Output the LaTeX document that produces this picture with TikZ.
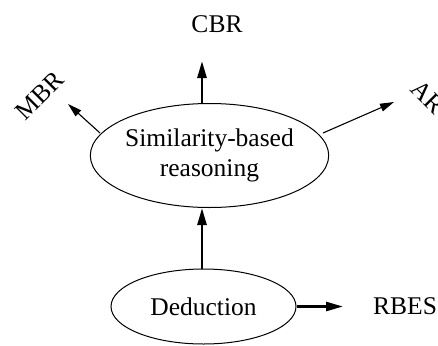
\documentclass[tikz,border=0pt]{standalone}
\usepackage{fontspec}
\setmainfont{Liberation Serif}
\usetikzlibrary{shapes.geometric,arrows.meta}
\begin{document}
\begin{tikzpicture}[x=1pt,y=-1pt,
  txt/.style={font=\fontsize{25.5}{30}\selectfont, inner sep=0pt},
  oval/.style={ellipse, draw, line width=1pt, inner sep=0pt, align=center,
               font=\fontsize{25.5}{30}\selectfont},
  thickarrow/.style={line width=2.6pt, -{Triangle[length=17pt,width=9pt]}},
  thinarrow/.style={line width=1.1pt, -{Triangle[length=14pt,width=8pt]}}]
  \useasboundingbox (0,0) rectangle (438,345);

  % ellipses
  \node[oval, minimum width=227pt, minimum height=104pt] (sim) at (209.5,155.5)
    {Similarity-based\\reasoning};
  \node[oval, minimum width=185pt, minimum height=75pt] (ded) at (203.5,306.5)
    {Deduction};

  % labels
  \node[txt] (cbr) at (217,24) {CBR};
  \node[txt, rotate=45] (mbr) at (40,96) {MBR};
  \node[txt, rotate=-45] (ar) at (428,97) {AR};
  \node[txt, anchor=west] (rbes) at (373,306) {RBES};

  % arrow ends
  \coordinate (cbrtip) at (202,61);
  \coordinate (mbrtip) at (68,104);
  \coordinate (artip) at (394,102);
  \coordinate (rbestip) at (343,306.5);
  \coordinate (mbrtail) at (100,133);
  \coordinate (artail) at (323,133);

  % connectors
  \draw[thickarrow] (cbrtip |- sim.north) -- (cbrtip);
  \draw[thinarrow] (mbrtail) -- (mbrtip);
  \draw[thinarrow] (artail) -- (artip);
  \draw[thickarrow] (cbrtip |- ded.north) -- (cbrtip |- sim.south);
  \draw[thickarrow] (ded.east) -- (rbestip);
\end{tikzpicture}
\end{document}
